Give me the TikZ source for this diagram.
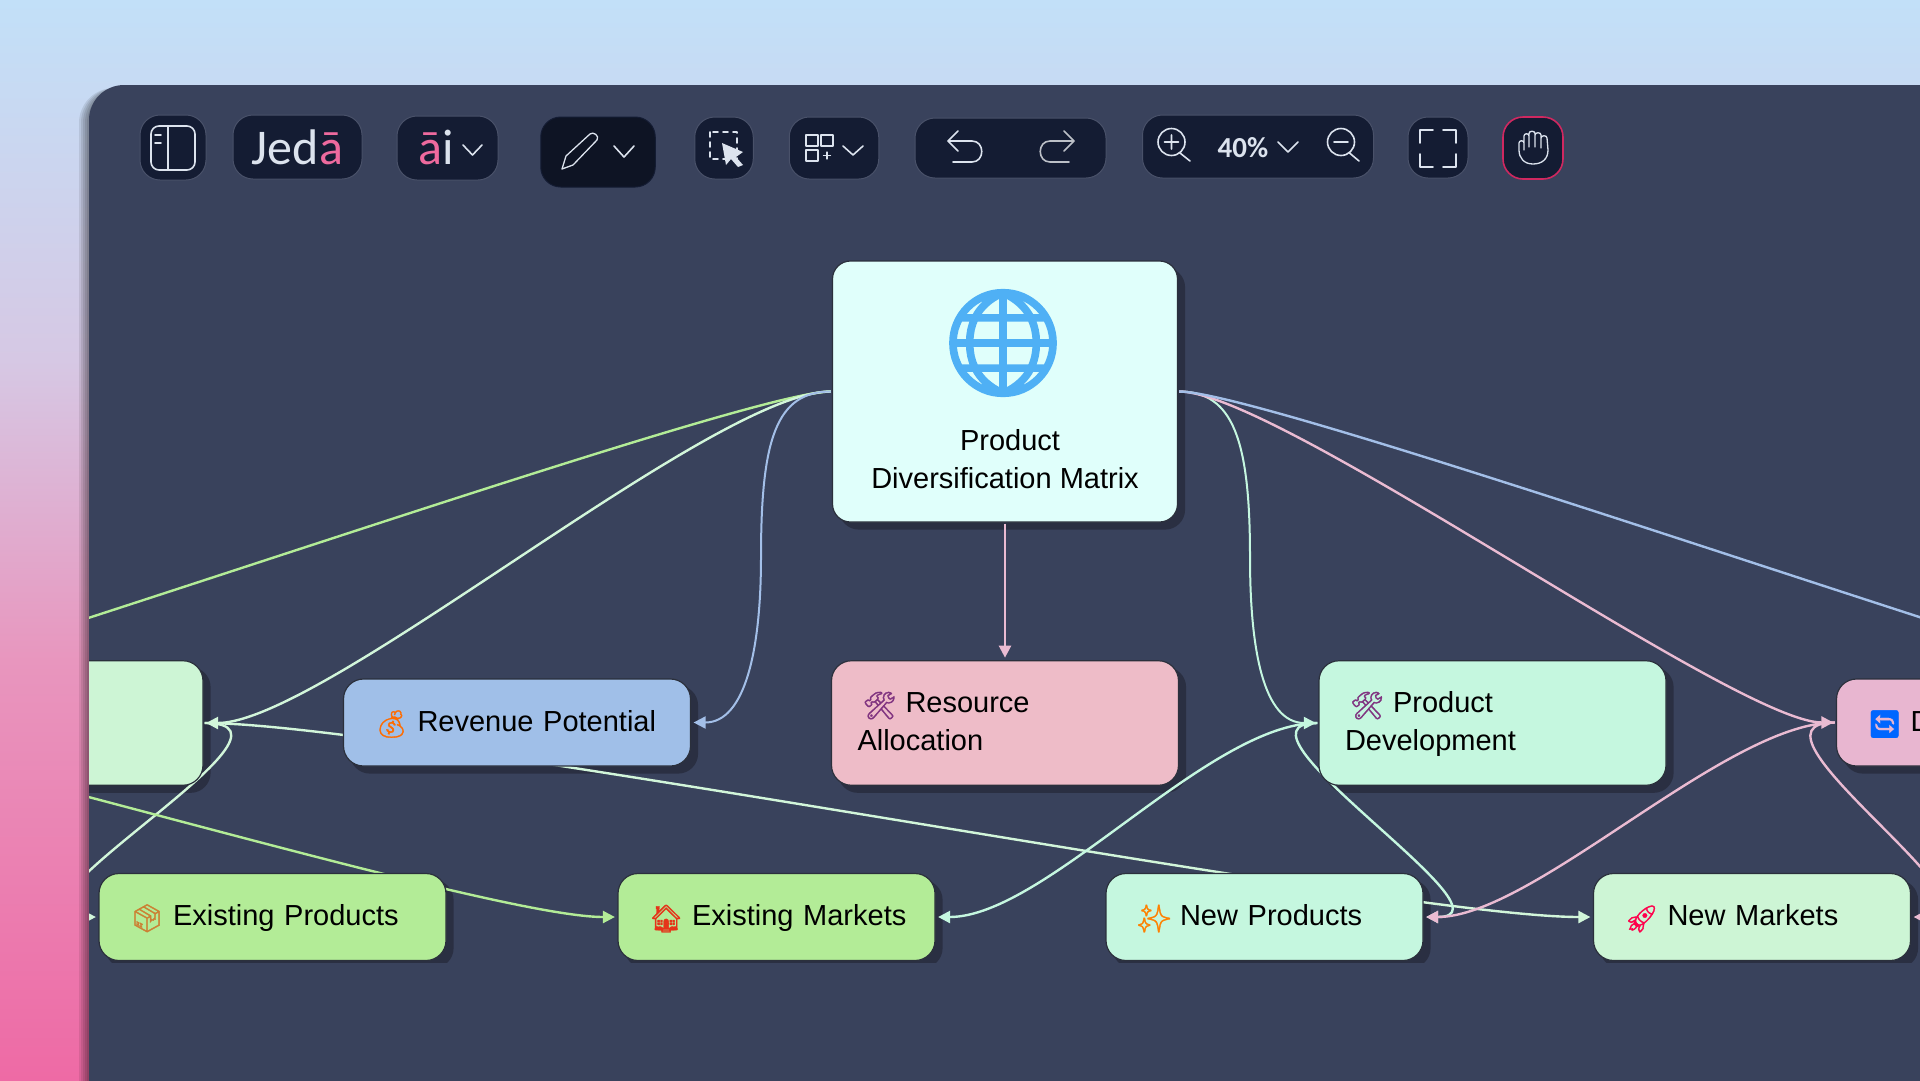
\documentclass[tikz,border=0pt]{standalone}
\usepackage{fontspec}
\usepackage{xcolor}
\setmainfont{Liberation Sans}
\newfontfamily\emojifont{Noto Emoji}[FakeBold=1.2]
\newfontfamily\globefont{Noto Emoji}[FakeBold=3.5]
\newfontfamily\logofont{Carlito}
\usetikzlibrary{arrows.meta}
\definecolor{panel}{HTML}{39425C}
\definecolor{toolbar}{HTML}{141C33}
\definecolor{iconline}{HTML}{DCE3EE}
\definecolor{logopink}{HTML}{EE6A9E}
\definecolor{handline}{HTML}{D02860}
\definecolor{boxline}{HTML}{2B303C}
\definecolor{boxshadow}{HTML}{2A2F42}
\definecolor{edgegreen}{HTML}{B3EC97}
\definecolor{edgepale}{HTML}{D2F6DA}
\definecolor{edgemint}{HTML}{C5F7E0}
\definecolor{edgeblue}{HTML}{A3BFE8}
\definecolor{edgepink}{HTML}{EABBD2}
\definecolor{skytop}{HTML}{C2E0F8}
\definecolor{skymid}{HTML}{D6C8E4}
\definecolor{skylow}{HTML}{E896BE}
\definecolor{skyend}{HTML}{EE6AA5}
\definecolor{rootfill}{HTML}{E0FFFB}
\definecolor{palefill}{HTML}{CDF5D5}
\definecolor{bluefill}{HTML}{A0BFE8}
\definecolor{rosefill}{HTML}{EEBCC8}
\definecolor{mintfill}{HTML}{C5F7DF}
\definecolor{pinkfill}{HTML}{E8B6D0}
\definecolor{limefill}{HTML}{B3EC97}
\definecolor{globeblue}{HTML}{4FB0F5}
\pgfdeclarelayer{edges}
\pgfsetlayers{edges,main}
\newcommand{\emo}[2]{\makebox[48pt][l]{\hspace{5pt}\smash{\raisebox{-2pt}{\fontsize{27}{27}\emojifont\color{#1}#2}}}}
\tikzset{
    flow-box/.style = {draw=boxline, line width=1.2pt, rectangle, rounded corners=20pt, text=black, align=left,
        font=\fontsize{29}{38}\selectfont, inner xsep=26pt, inner ysep=0pt, text width=295pt, minimum height=87pt,
        execute at begin node=\rule{0pt}{29pt}, execute at end node=\strut},
    tall-box/.style = {flow-box, minimum height=124.5pt},
    short-box/.style = {flow-box, text width=265pt},
    flow-edge/.style = {line width=2.4pt, -{Triangle[length=12pt,width=12pt]}, shorten >=2.5pt, shorten <=1pt},
    free-edge/.style = {line width=2.4pt, shorten <=1pt},
    tool-box/.style = {rectangle, rounded corners=20pt, fill=toolbar, draw=panel!92!white, line width=1pt, inner sep=0pt},
    icon-line/.style = {draw=iconline, line width=1.6pt, line join=round, line cap=round},
}

\begin{document}
\begin{tikzpicture}[x=1pt, y=-1pt]
\useasboundingbox (0,0) rectangle (1920,1080);
% backdrop and panel
\begin{pgfonlayer}{edges}
\shade[top color=skytop, bottom color=skymid] (0,0) rectangle (1920,360);
\shade[top color=skymid, bottom color=skylow] (0,360) rectangle (1920,660);
\shade[top color=skylow, bottom color=skyend] (0,660) rectangle (1920,1080);
\foreach \grow in {2,4,6,8,10}
    \fill[black, opacity=0.09, rounded corners=35pt] (89-\grow,88) rectangle (2000,1200);
\fill[panel, rounded corners=35pt] (89,85) rectangle (2000,1200);
\coordinate (far-left-top) at (-350,745);
\coordinate (far-left-low) at (-350,700);
\coordinate (far-right) at (2361,745);
\coordinate (blue-bend) at (761,557);
\coordinate (mint-bend) at (1250,557);
\end{pgfonlayer}

% toolbar
\node[tool-box, minimum width=66pt, minimum height=65pt] (sidebar-btn) at (173,147.5) {};
\node[tool-box, minimum width=129pt, minimum height=64pt, font=\logofont\fontsize{50}{50}\selectfont, text=iconline] (jeda-btn) at (297.5,147) {Jed\textcolor{logopink}{ā}\hspace{20pt}};
\node[tool-box, minimum width=101pt, minimum height=64pt] (ai-btn) at (447.5,148) {};
\node[tool-box, draw=toolbar, fill=toolbar!70!black, minimum width=114.5pt, minimum height=70pt] (pen-btn) at (598,152) {};
\node[tool-box, minimum width=58.5pt, minimum height=62pt] (select-btn) at (724,148) {};
\node[tool-box, minimum width=89.5pt, minimum height=62pt] (grid-btn) at (834,148) {};
\node[tool-box, minimum width=191pt, minimum height=60pt] (undo-btn) at (1010.5,148) {};
\node[tool-box, minimum width=231pt, minimum height=63pt] (zoom-btn) at (1258,146.5) {};
\node[tool-box, minimum width=60pt, minimum height=61pt] (full-btn) at (1438,147.5) {};
\node[tool-box, draw=handline, line width=1.6pt, minimum width=60pt, minimum height=62pt] (hand-btn) at (1533,148) {};
\node[font=\logofont\fontsize{50}{50}\selectfont, text=iconline, inner sep=0pt] (ai-label) at (436,147) {\textcolor{logopink}{ā}i};
\node[font=\logofont\bfseries\fontsize{29}{29}\selectfont, text=iconline, inner sep=0pt] (zoom-label) at (1243,148) {40\%};

% toolbar icons
\draw[icon-line, rounded corners=8pt] (151,126) rectangle (195,170);
\draw[icon-line] (168,126) -- (168,170) (155,135) -- (161,135) (155,143) -- (161,143);
\draw[icon-line, line width=1.3pt] (562,169) -- (566,156) -- (590,134) .. controls (593,131) and (600,136) .. (597,140) -- (573,165) -- cycle;
\draw[icon-line, dash pattern=on 5pt off 5pt] (710,132) rectangle (737,159);
\fill[iconline] (722,143) -- (743,152) -- (736,157) -- (743,165) -- (738,167) -- (731,159) -- (726,165) -- cycle;
\draw[icon-line, line width=1.2pt] (806,135) rectangle (818,146) (821,135) rectangle (833,146) (806,150) rectangle (818,161) (827,152) -- (827,159) (823.5,155.5) -- (830.5,155.5);
\draw[icon-line] (958,131) -- (948,141) -- (958,151) (948,141) -- (972,141) .. controls (985,141) and (985,162) .. (972,162) -- (953,162);
\draw[icon-line, draw=iconline!65!gray] (1064,131) -- (1074,141) -- (1064,151) (1074,141) -- (1050,141) .. controls (1037,141) and (1037,162) .. (1050,162) -- (1069,162);
\draw[icon-line] (1171.5,142) circle[radius=13.5pt] (1180,153) -- (1190,161) (1171.5,135) -- (1171.5,149) (1164.5,142) -- (1178.5,142);
\draw[icon-line] (1341,142) circle[radius=13.5pt] (1349.5,153) -- (1359,161) (1334,142) -- (1348,142);
\draw[icon-line] (1420,143) -- (1420,130) -- (1433,130) (1443,130) -- (1456,130) -- (1456,143) (1420,154) -- (1420,167) -- (1433,167) (1443,167) -- (1456,167) -- (1456,154);
\draw[icon-line, line width=1.3pt] (1519,150) -- (1519,143) .. controls (1519,140) and (1524,140) .. (1524,143) -- (1524,136) .. controls (1524,133) and (1529,133) .. (1529,136) -- (1529,133.5) .. controls (1529,130.5) and (1535,130.5) .. (1535,133.5) -- (1535,135) .. controls (1535,132) and (1541,132) .. (1541,135) -- (1541,138) .. controls (1541,135) and (1547,135) .. (1547,138) -- (1548,150) .. controls (1548,159) and (1542,164) .. (1533,164) .. controls (1524,164) and (1519,158) .. (1519,150) (1524,143) -- (1524,150) (1529,136) -- (1529,147) (1535,135) -- (1535,147) (1541,138) -- (1541,148);
\foreach \cx/\cy/\cw/\ch in {472.5/150/9.5/5, 624/151.5/10/5.5, 853/150.5/10/4.5, 1288/147/10/5}
    \draw[icon-line] ({\cx-\cw},{\cy-\ch}) -- (\cx,{\cy+\ch}) -- ({\cx+\cw},{\cy-\ch});

% diagram boxes
\begin{scope}
\clip (89,200) rectangle (1920,962);
\node[flow-box, fill=rootfill, rounded corners=18pt, text width=293pt, minimum height=261pt] (root) at (1005,391.5) {};
\node[inner sep=0pt, text=globeblue, font=\globefont\fontsize{103}{103}\selectfont] (root-icon) at (1003,343) {🌐};
\node[inner sep=0pt, align=center, text=black, font=\fontsize{29}{38}\selectfont] (root-label) at (1005,459) {\hspace*{10pt}Product\\Diversification Matrix};
\node[tall-box, fill=palefill] (penetration) at (29.5,723) {};
\node[flow-box, fill=bluefill] (revenue) at (517,722.5) {\emo{orange!85!red}{💰}Revenue Potential};
\node[tall-box, fill=rosefill] (resource) at (1005,723) {\emo{violet!60!gray}{🛠}Resource\\Allocation};
\node[tall-box, fill=mintfill] (development) at (1492.5,723) {\emo{violet!60!gray}{🛠}Product\\Development};
\node[flow-box, fill=pinkfill] (diversification) at (2010,722.5) {\emo{blue!60!cyan}{🔄}D};
\node[flow-box, fill=limefill] (exist-products) at (272.5,917) {\emo{brown!80!orange}{📦}Existing Products};
\node[short-box, fill=limefill] (exist-markets) at (776.5,917) {\emo{red!60!brown}{🏠}Existing Markets};
\node[short-box, fill=mintfill] (new-products) at (1264.5,917) {\emo{orange}{✨}New Products};
\node[short-box, fill=palefill] (new-markets) at (1752,917) {\emo{red!70!magenta}{🚀}New Markets};
\end{scope}

% shadows, then connectors over them
\begin{pgfonlayer}{edges}
\begin{scope}
\clip (89,200) rectangle (1920,962);
\foreach \boxname in {root,penetration,revenue,resource,development,diversification,exist-products,exist-markets,new-products,new-markets}
    \fill[boxshadow, rounded corners=20pt] ([shift={(7,7)}]\boxname.north west) rectangle ([shift={(7,7)}]\boxname.south east);
\draw[free-edge, draw=edgegreen] (root.west) .. controls +(-100,0) and +(100,0) .. (far-left-top);
\draw[flow-edge, draw=edgepale] (root.west) .. controls +(-120,0) and +(120,0) .. (penetration.east);
\draw[flow-edge, draw=edgeblue, line width=2pt] (root.west) .. controls +(-56,0) and +(0,-117) .. (blue-bend) .. controls +(0,93) and +(54,0) .. (revenue.east);
\draw[flow-edge, draw=edgepink] (root.south) -- (resource.north);
\draw[flow-edge, draw=edgemint, line width=2pt] (root.east) .. controls +(55,0) and +(0,-117) .. (mint-bend) .. controls +(0,93) and +(-55,0) .. (development.west);
\draw[flow-edge, draw=edgepink] (root.east) .. controls +(100,0) and +(-100,0) .. (diversification.west);
\draw[free-edge, draw=edgeblue] (root.east) .. controls +(100,0) and +(-100,0) .. (far-right);
\draw[flow-edge, draw=edgepale] (penetration.east) .. controls +(200,0) and +(-200,0) .. (new-markets.west);
\draw[flow-edge, draw=edgepale] (penetration.east) .. controls +(125,0) and +(-125,0) .. (exist-products.west);
\draw[flow-edge, draw=edgegreen] (far-left-low) .. controls +(140,0) and +(-140,0) .. (exist-markets.west);
\draw[flow-edge, draw=edgemint] (development.west) .. controls +(-110,0) and +(110,0) .. (exist-markets.east);
\draw[flow-edge, draw=edgemint] (development.west) .. controls +(-105,0) and +(100,0) .. (new-products.east);
\draw[flow-edge, draw=edgepink] (diversification.west) .. controls +(-110,0) and +(110,0) .. (new-products.east);
\draw[flow-edge, draw=edgepink] (diversification.west) .. controls +(-110,0) and +(110,0) .. (new-markets.east);
\end{scope}
\end{pgfonlayer}
\end{tikzpicture}
\end{document}
